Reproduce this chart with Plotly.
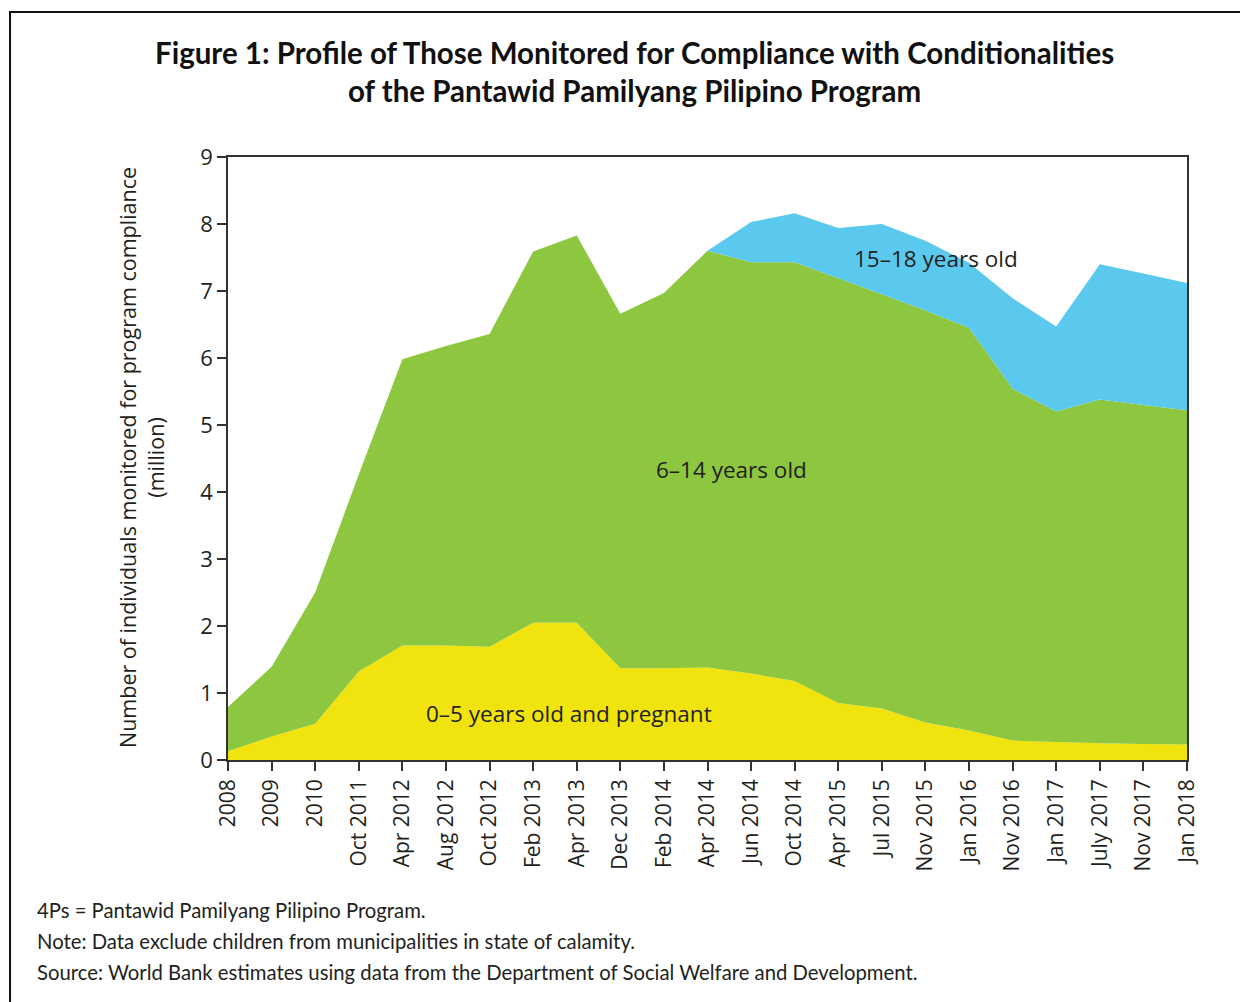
import plotly.graph_objects as go

categories = ["2008", "2009", "2010", "Oct 2011", "Apr 2012", "Aug 2012", "Oct 2012",
              "Feb 2013", "Apr 2013", "Dec 2013", "Feb 2014", "Apr 2014", "Jun 2014",
              "Oct 2014", "Apr 2015", "Jul 2015", "Nov 2015", "Jan 2016", "Nov 2016",
              "Jan 2017", "July 2017", "Nov 2017", "Jan 2018"]

age_0_5 = [0.13, 0.35, 0.54, 1.32, 1.71, 1.71, 1.69, 2.05, 2.05, 1.37, 1.37, 1.38, 1.29,
           1.18, 0.85, 0.77, 0.56, 0.44, 0.29, 0.27, 0.25, 0.24, 0.23]
age_6_14 = [0.66, 1.04, 1.96, 2.94, 4.27, 4.47, 4.67, 5.54, 5.78, 5.29, 5.60, 6.22, 6.14,
            6.25, 6.34, 6.18, 6.15, 6.01, 5.25, 4.93, 5.13, 5.06, 4.99]
age_15_18 = [0, 0, 0, 0, 0, 0, 0, 0, 0, 0, 0, 0, 0.60,
             0.73, 0.75, 1.05, 1.04, 0.97, 1.35, 1.27, 2.02, 1.96, 1.90]

y_ticks = list(range(0, 10))

FONT = "Lato"
BODY = "Open Sans"
TXT = "#231F20"

fig = go.Figure()
fig.add_trace(go.Scatter(x=categories, y=age_0_5, stackgroup="one", mode="none",
                         fillcolor="#F0E30E", name="0–5 years old and pregnant"))
fig.add_trace(go.Scatter(x=categories, y=age_6_14, stackgroup="one", mode="none",
                         fillcolor="#8DC63F", name="6–14 years old"))
fig.add_trace(go.Scatter(x=categories, y=age_15_18, stackgroup="one", mode="none",
                         fillcolor="#5BC9EE", name="15–18 years old"))

fig.update_layout(
    width=1240, height=994,
    margin=dict(l=220, r=61, t=149, b=242),
    paper_bgcolor="white", plot_bgcolor="white",
    showlegend=False,
    font=dict(family=FONT, color=TXT),
)
fig.update_xaxes(type="category", range=[0, len(categories) - 1],
                 showline=True, linecolor="#333", linewidth=1.5, mirror=True,
                 ticks="outside", ticklen=9, tickcolor="#333", tickwidth=1.5,
                 tickangle=-90, tickfont=dict(size=21, family=BODY, color=TXT),
                 showgrid=False, zeroline=False)
fig.update_yaxes(range=[0, 9], tickvals=y_ticks,
                 showline=True, linecolor="#333", linewidth=1.5, mirror=True,
                 ticks="outside", ticklen=9, tickcolor="#333", tickwidth=1.5,
                 tickfont=dict(size=22, family=BODY, color=TXT),
                 showgrid=False, zeroline=False)

# Outer frame
fig.add_shape(type="rect", xref="paper", yref="paper",
              x0=-0.2273, x1=1.0615, y0=-0.45, y1=1.2405,
              line=dict(color="#111", width=2), fillcolor="rgba(0,0,0,0)")

# Title
fig.add_annotation(xref="paper", yref="paper", x=0.4244, y=1.141,
                   xanchor="center", yanchor="middle", showarrow=False,
                   text="<b>Figure 1: Profile of Those Monitored for Compliance with Conditionalities<br>of the Pantawid Pamilyang Pilipino Program</b>",
                   font=dict(size=29.5, family=FONT, color="#111"))

# Y axis title
fig.add_annotation(xref="paper", yref="paper", x=-0.0907, y=0.5008,
                   xanchor="center", yanchor="middle", showarrow=False, textangle=-90,
                   text="Number of individuals monitored for program compliance<br>(million)",
                   font=dict(size=21.5, family=BODY, color=TXT))

# Series labels
fig.add_annotation(x=7.82, y=0.70, showarrow=False, text="0–5 years old and pregnant",
                   font=dict(size=22.5, family=BODY, color=TXT))
fig.add_annotation(x=11.54, y=4.33, showarrow=False, text="6–14 years old",
                   font=dict(size=22.5, family=BODY, color=TXT))
fig.add_annotation(x=16.24, y=7.48, showarrow=False, text="15–18 years old",
                   font=dict(size=22.5, family=BODY, color=TXT))

# Footnotes
notes = ["4Ps = Pantawid Pamilyang Pilipino Program.",
         "Note: Data exclude children from municipalities in state of calamity.",
         "Source: World Bank estimates using data from the Department of Social Welfare and Development."]
for i, t in enumerate(notes):
    fig.add_annotation(xref="paper", yref="paper", x=-0.2013, y=-0.2488 - 0.0514 * i,
                       xanchor="left", yanchor="middle", showarrow=False, text=t,
                       font=dict(size=20.3, family=FONT, color=TXT))

fig.write_html("out.html")
